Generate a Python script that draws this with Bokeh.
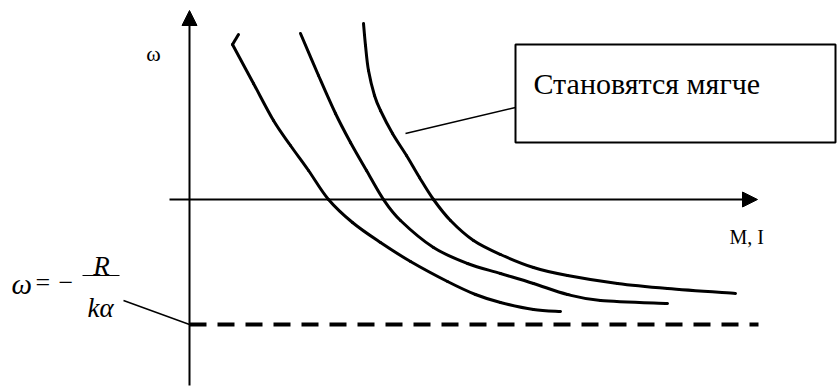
from bokeh.plotting import figure
from bokeh.models import Range1d, Arrow, NormalHead
from bokeh.core.properties import value
from bokeh.embed import file_html
from bokeh.resources import INLINE

# Mechanical characteristics omega(M) in relative units (origin at axes crossing)
c1_m = [4.9, 4.3, 6.4, 8.4, 10.1, 11.9, 13.9, 16.3, 19.1, 22.1, 25.8, 28.6, 31.1, 34.4, 37.1]
c1_w = [16.5, 15.5, 11.6, 7.9, 5.4, 2.9, 0.0, -2.3, -4.3, -6.2, -8.2, -9.5, -10.3, -11.0, -11.2]

c2_m = [11.1, 12.9, 14.6, 16.1, 17.7, 19.4, 21.1, 24.4, 27.8, 31.1, 34.4, 37.8, 41.1, 47.8]
c2_w = [16.6, 12.4, 8.6, 5.7, 2.9, 0.0, -2.1, -4.8, -6.4, -7.4, -8.4, -9.5, -10.1, -10.4]

c3_m = [17.4, 17.6, 17.9, 18.5, 19.1, 20.3, 21.7, 23.0, 24.4, 26.1, 28.4, 31.1, 34.4, 37.8, 42.8, 47.8, 54.6]
c3_w = [17.6, 15.4, 12.9, 10.4, 8.9, 6.6, 4.4, 2.2, 0.0, -2.1, -4.1, -5.5, -6.8, -7.6, -8.4, -8.9, -9.4]

# Asymptote omega = -R/(k*alpha)
asym_w = -12.5
asym_m = [0.0, 56.9]

# Axis extents
x_axis_m = [-2.0, 56.8]
y_axis_w = [-18.6, 18.9]

y_label = "ω"
x_label = "M, I"
note_text = "Становятся мягче"

SERIF = value("Liberation Serif")


def smooth_segments(xs, ys):
    """Cubic Bezier segments (Catmull-Rom tangents) passing through every point."""
    n = len(xs)
    seg = dict(x0=[], y0=[], x1=[], y1=[], cx0=[], cy0=[], cx1=[], cy1=[])
    for i in range(n - 1):
        i0, i3 = max(i - 1, 0), min(i + 2, n - 1)
        seg["x0"].append(xs[i]); seg["y0"].append(ys[i])
        seg["x1"].append(xs[i + 1]); seg["y1"].append(ys[i + 1])
        seg["cx0"].append(xs[i] + (xs[i + 1] - xs[i0]) / 6)
        seg["cy0"].append(ys[i] + (ys[i + 1] - ys[i0]) / 6)
        seg["cx1"].append(xs[i + 1] - (xs[i3] - xs[i]) / 6)
        seg["cy1"].append(ys[i + 1] - (ys[i3] - ys[i]) / 6)
    return seg


p = figure(width=837, height=387,
           x_range=Range1d(-18.9, 64.8), y_range=Range1d(-18.8, 19.9),
           x_axis_type=None, y_axis_type=None,
           output_backend="svg", toolbar_location=None, min_border=0)
p.grid.visible = False
p.outline_line_color = None
p.background_fill_color = "white"
p.border_fill_color = "white"

# Axes with arrow heads
p.add_layout(Arrow(end=NormalHead(size=15, fill_color="black", line_color="black"),
                   x_start=x_axis_m[0], y_start=0, x_end=x_axis_m[1], y_end=0,
                   line_color="black", line_width=2))
p.add_layout(Arrow(end=NormalHead(size=15, fill_color="black", line_color="black"),
                   x_start=0, y_start=y_axis_w[0], x_end=0, y_end=y_axis_w[1],
                   line_color="black", line_width=2))

# Dashed asymptote
p.line(asym_m, [asym_w, asym_w], line_color="black", line_width=4,
       line_dash="17 11", line_cap="butt")

# Characteristics: the first one starts with a short hook
p.line(c1_m[:2], c1_w[:2], line_color="black", line_width=3, line_cap="round")
for xs, ys in ((c1_m[1:], c1_w[1:]), (c2_m, c2_w), (c3_m, c3_w)):
    s = smooth_segments(xs, ys)
    p.bezier(x0="x0", y0="y0", x1="x1", y1="y1", cx0="cx0", cy0="cy0",
             cx1="cx1", cy1="cy1", source=s, line_color="black", line_width=3,
             line_cap="round")

# Axis labels
p.text(x=[-3.6], y=[14.6], text=[y_label], text_font=SERIF, text_font_size="22px",
       text_align="center", text_baseline="middle", text_color="black")
p.text(x=[54.0], y=[-3.7], text=[x_label], text_font=SERIF, text_font_size="20px",
       text_align="left", text_baseline="alphabetic", text_color="black")

# Callout box with leader line
p.quad(left=[32.6], right=[64.6], top=[15.5], bottom=[5.7],
       fill_color="white", line_color="black", line_width=2)
p.line([21.6, 32.6], [6.6, 9.2], line_color="black", line_width=1.5)
p.text(x=[34.4], y=[11.65], text=[note_text], text_font=SERIF, text_font_size="30px",
       text_align="left", text_baseline="alphabetic", text_color="black")

# Formula omega = -R/(k alpha) with leader to the asymptote
p.text(x=[-17.8], y=[-8.4], text=["ω"], text_font=SERIF, text_font_size="29px",
       text_font_style="italic", text_align="left", text_baseline="alphabetic")
p.text(x=[-15.4], y=[-8.3], text=["="], text_font=SERIF, text_font_size="26px",
       text_align="left", text_baseline="alphabetic")
p.text(x=[-13.1], y=[-8.3], text=["−"], text_font=SERIF, text_font_size="26px",
       text_align="left", text_baseline="alphabetic")
p.line([-10.7, -7.0], [-7.6, -7.6], line_color="black", line_width=1)
p.text(x=[-8.8], y=[-6.6], text=["R"], text_font=SERIF, text_font_size="27px",
       text_font_style="italic", text_align="center", text_baseline="alphabetic")
p.text(x=[-8.9], y=[-10.8], text=["kα"], text_font=SERIF, text_font_size="27px",
       text_font_style="italic", text_align="center", text_baseline="alphabetic")
p.line([-6.6, 0.0], [-10.1, asym_w], line_color="black", line_width=1.5)

open("out.html", "w").write(file_html(p, INLINE))
